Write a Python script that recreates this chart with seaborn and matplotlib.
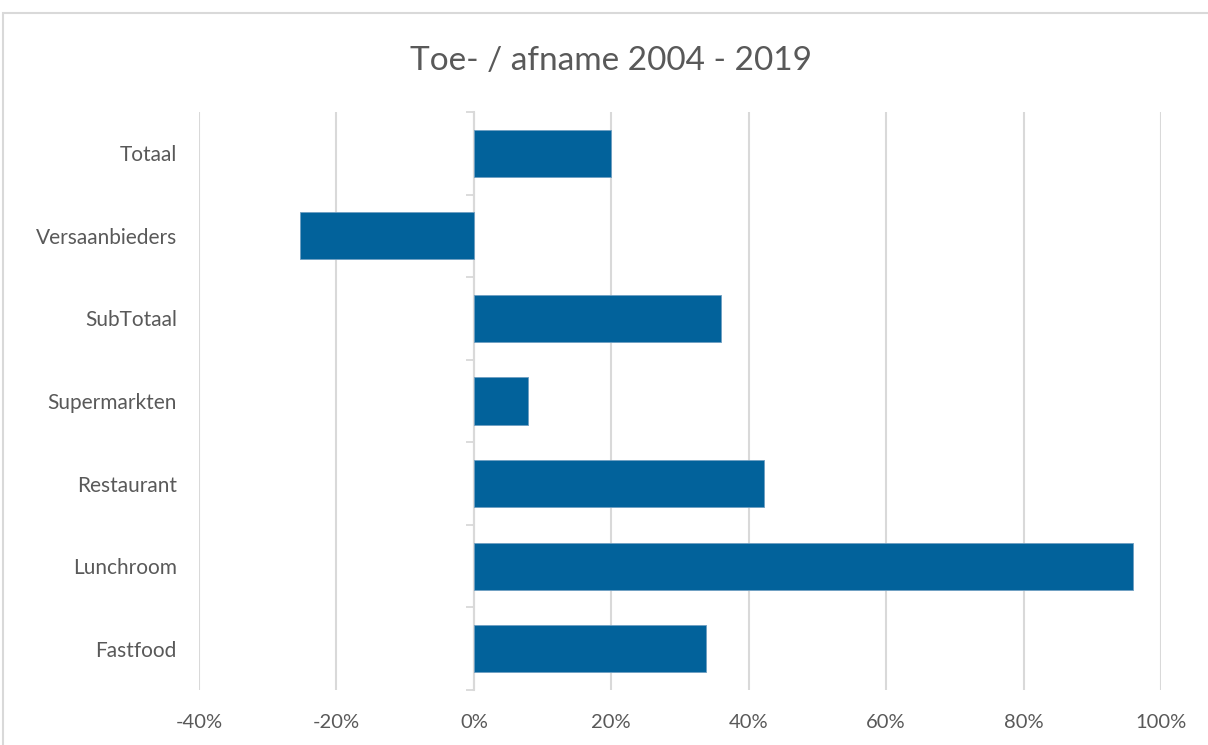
import matplotlib
matplotlib.use("Agg")
import matplotlib.pyplot as plt
from matplotlib.patches import Rectangle
from matplotlib.ticker import FuncFormatter
import pandas as pd
import seaborn as sns

categories = ["Totaal", "Versaanbieders", "SubTotaal", "Supermarkten",
              "Restaurant", "Lunchroom", "Fastfood"]
change_pct = [20.0, -25.3, 36.0, 7.9, 42.2, 95.9, 33.8]
x_ticks = [-40, -20, 0, 20, 40, 60, 80, 100]
title = "Toe- / afname 2004 - 2019"

bar_color = "#02629b"
grid_color = "#d9d9d9"
text_color = "#595959"

sns.set_style("white")
plt.rcParams["font.family"] = ["Lato", "DejaVu Sans"]

df = pd.DataFrame({"categorie": categories, "verandering": change_pct})

fig = plt.figure(figsize=(12.08, 7.45), dpi=100)
ax = fig.add_axes([199 / 1208, 1 - 690 / 745, (1161 - 199) / 1208, (690 - 112) / 745])

sns.barplot(data=df, x="verandering", y="categorie", orient="h",
            color=bar_color, saturation=1, width=0.57,
            edgecolor="#6f9fc2", linewidth=0.6, ax=ax, zorder=3)

ax.set_xlim(-40, 100)
ax.set_ylim(len(categories) - 0.5, -0.5)
ax.set_xticks(x_ticks)
ax.xaxis.set_major_formatter(FuncFormatter(lambda v, p: f"{v:.0f}%"))
ax.grid(axis="x", color=grid_color, linewidth=1.5, zorder=0)
ax.set_axisbelow(True)
for s in ax.spines.values():
    s.set_visible(False)
ax.set_xlabel("")
ax.set_ylabel("")
ax.tick_params(axis="x", length=0, pad=17, labelsize=14.5, labelcolor=text_color)
ax.tick_params(axis="y", length=0, pad=16, labelsize=15, labelcolor=text_color)

# category axis at 0% with tick marks between categories
sec = ax.secondary_yaxis(40 / 140)
sec.set_yticks([i - 0.5 for i in range(len(categories) + 1)])
sec.set_yticklabels([])
sec.tick_params(length=6, width=1.3, color=grid_color, direction="out")
sec.spines["left"].set_color(grid_color)
sec.spines["left"].set_linewidth(1.5)

fig.text(0.506, 1 - 61 / 745, title, ha="center", va="center",
         fontsize=24, color=text_color)

fig.patches.append(Rectangle((3 / 1208, -0.05), 1.1, 1 - 13 / 745 + 0.05,
                             transform=fig.transFigure, fill=False,
                             edgecolor=grid_color, linewidth=1.5))

fig.savefig("out.png", dpi=100)
